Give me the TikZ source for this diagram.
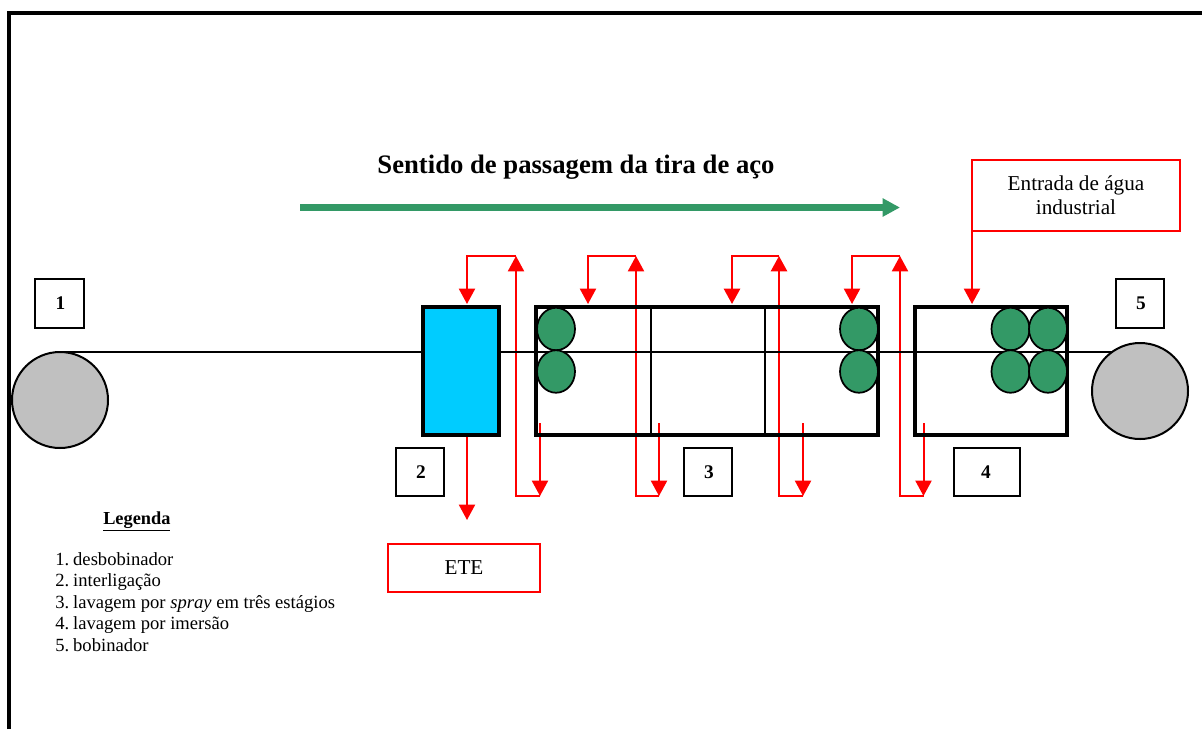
\documentclass[tikz,border=0pt]{standalone}
\usepackage{fontspec}
\setmainfont{Liberation Serif}
\usetikzlibrary{arrows.meta,shapes.geometric}
\pgfdeclarelayer{bg}
\pgfsetlayers{bg,main}
\definecolor{rollgreen}{HTML}{339966}
\definecolor{tankblue}{HTML}{00CCFF}
\definecolor{rollgray}{HTML}{C0C0C0}
\definecolor{pipered}{HTML}{FF0000}
\tikzset{
  sz/.style 2 args={minimum width=#1*0.75pt,minimum height=#2*0.75pt,inner sep=0pt,outer sep=0pt},
  numbox/.style={draw=black,line width=1.5pt,font=\fontsize{14.5}{16}\selectfont\bfseries,align=center},
  redbox/.style={draw=pipered,line width=1.5pt,font=\fontsize{15.9}{18}\selectfont,align=center},
  tank/.style={draw=black,line width=2.3pt},
  divider/.style={draw=black,line width=1.2pt},
  roller/.style={circle,draw=black,line width=1.5pt,fill=rollgray,inner sep=0pt,outer sep=0pt,minimum size=96*0.75pt},
  greenroll/.style={ellipse,draw=black,line width=1.3pt,fill=rollgreen,inner sep=0pt,outer sep=0pt,minimum width=38*0.75pt,minimum height=42.5*0.75pt},
  pipe/.style={draw=pipered,line width=1.5pt,line join=miter},
  pipearrow/.style={pipe,-{Triangle[width=12pt,length=11.5pt]}},
  stripline/.style={draw=black,line width=1.5pt},
  legend/.style={anchor=base west,inner sep=0pt,font=\fontsize{13.95}{14}\selectfont},
}
\begin{document}
\begin{tikzpicture}[x=0.75pt,y=-0.75pt]
\useasboundingbox (0,0) rectangle (1202,729);
% frame
\coordinate (fa) at (9,729);
\coordinate (fb) at (9,13);
\coordinate (fc) at (1203,13);
\draw[black,line width=2.3pt,line join=miter] (fa) -- (fb) -- (fc);

% title and main arrow
\node[inner sep=0pt,font=\fontsize{20}{22}\selectfont\bfseries] (title) at (576,167.5) {Sentido de passagem da tira de aço};
\coordinate (ga) at (300,207.5);
\coordinate (gb) at (900,207.5);
\draw[draw=rollgreen,line width=5pt,-{Triangle[width=13pt,length=13pt]}] (ga) -- (gb);

% strip
\coordinate (stripA) at (60,352);
\coordinate (stripB) at (1140,352);
\draw[stripline] (stripA) -- (stripB);

% rollers
\node[roller] (unc) at (60,400) {};
\node[roller] (rec) at (1140,391) {};

% tanks
\node[tank,fill=tankblue,sz={76}{128}] (link) at (461,371) {};
\node[tank,sz={342}{128}] (spray) at (707,371) {};
\node[tank,sz={152}{128}] (dip) at (991,371) {};
\draw[divider] (651,307) coordinate (d1t) -- (651,435) coordinate (d1b);
\draw[divider] (765,307) coordinate (d2t) -- (765,435) coordinate (d2b);

% green rolls
\node[greenroll] (g1) at (556,329) {};
\node[greenroll] (g2) at (556,371.5) {};
\node[greenroll] (g3) at (859,329) {};
\node[greenroll] (g4) at (859,371.5) {};
\node[greenroll] (g5) at (1010.5,329) {};
\node[greenroll] (g6) at (1010.5,371.5) {};
\node[greenroll] (g7) at (1048,329) {};
\node[greenroll] (g8) at (1048,371.5) {};

% number boxes
\node[numbox,sz={49}{49}] (n1) at (59.5,303.5) {\kern1.5pt 1};
\node[numbox,sz={48}{48}] (n2) at (420,472) {\kern1.5pt 2};
\node[numbox,sz={48}{48}] (n3) at (708,472) {\kern1.5pt 3};
\node[numbox,sz={66}{48}] (n4) at (987,472) {4\kern1.5pt};
\node[numbox,sz={48}{49}] (n5) at (1140,303.5) {\kern1.5pt 5};

% red boxes
\node[redbox,sz={208}{71}] (inlet) at (1076,195.5) {Entrada de água\\industrial};
\node[redbox,sz={152}{48}] (ete) at (464,568) {ETE};

% legend
\node[legend,font=\fontsize{13.75}{14}\selectfont\bfseries] (leg0) at (103,524) {\underline{Legenda}};
\node[legend] (leg1) at (55,565) {1.\kern-0.5pt\ desbobinador};
\node[legend] (leg2) at (55,586) {2.\kern-0.5pt\ interligação};
\node[legend] (leg3) at (55,608) {3.\kern-0.5pt\ lavagem por \textit{spray} em três estágios};
\node[legend] (leg4) at (55,629) {4.\kern-0.5pt\ lavagem por imersão};
\node[legend] (leg5) at (55,651) {5.\kern-0.5pt\ bobinador};

% free ends of the piping
\coordinate (inA) at (972,231);
\coordinate (inB) at (972,304);
\coordinate (eA) at (467,435);
\coordinate (eB) at (467,520);
\foreach \nm/\dn/\up/\dr in {a/467/516/540,b/588/636/659,c/732/779/803,d/852/900/923.5}{
  \coordinate (\nm-top) at (\dn,304);
  \coordinate (\nm-tl) at (\dn,256);
  \coordinate (\nm-tr) at (\up,256);
  \coordinate (\nm-bl) at (\up,496);
  \coordinate (\nm-br) at (\dr,496);
  \coordinate (\nm-st) at (\dr,423);
}
\begin{pgfonlayer}{bg}
  \draw[pipearrow] (inA) -- (inB);
  \draw[pipearrow] (eA) -- (eB);
  \foreach \nm in {a,b,d}{
    \draw[pipearrow] (\nm-st) -- (\nm-br);
    \draw[pipearrow] (\nm-br) -- (\nm-bl) -- (\nm-tr);
    \draw[pipearrow] (\nm-tr) -- (\nm-tl) -- (\nm-top);
  }
  \draw[pipearrow] (c-st) -- (c-br);
  \draw[pipearrow,line width=2pt] (c-br) -- (c-bl) -- (c-tr);
  \draw[pipearrow,line width=2pt] (c-tr) -- (c-tl) -- (c-top);
\end{pgfonlayer}
\end{tikzpicture}
\end{document}
